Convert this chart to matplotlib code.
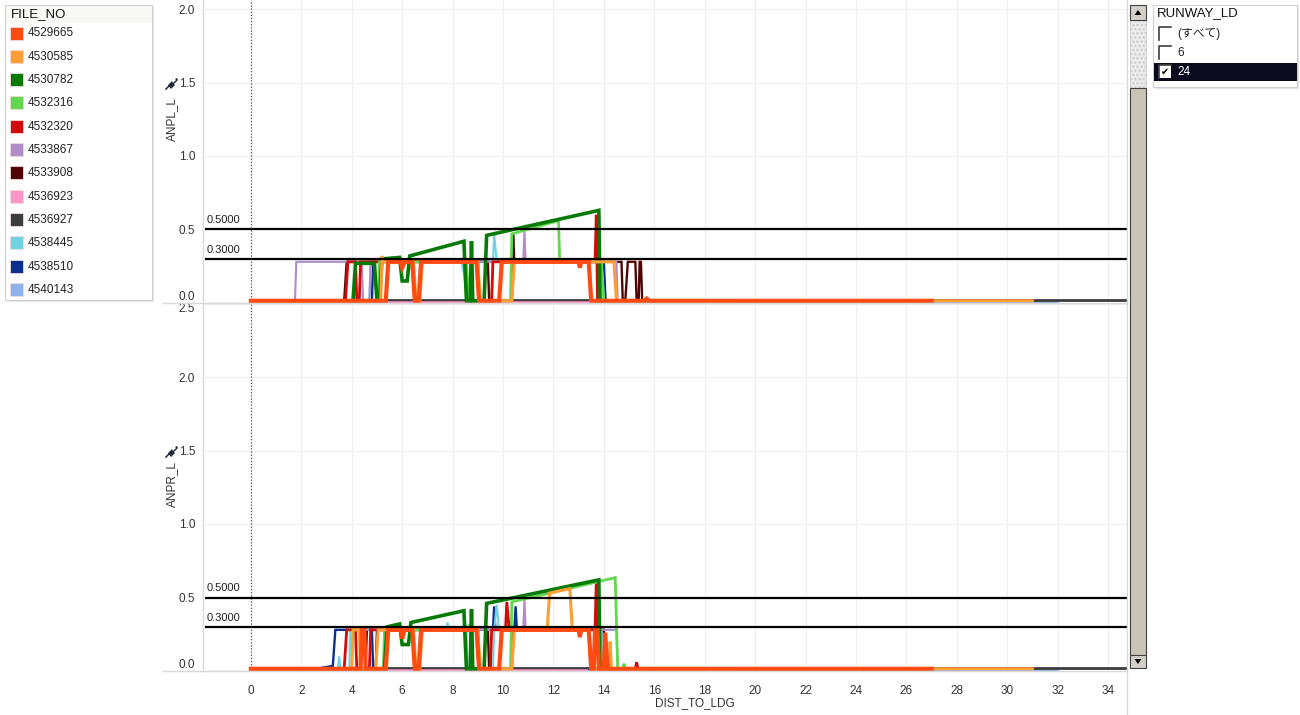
import matplotlib.pyplot as plt
from matplotlib.patches import Rectangle, Polygon

plt.rcParams['font.family'] = ['Liberation Sans', 'DejaVu Sans']

# ---- data -----------------------------------------------------------------
file_nos = ['4529665', '4530585', '4530782', '4532316', '4532320', '4533867',
            '4533908', '4536923', '4536927', '4538445', '4538510', '4540143']
colors = ['#ff4a12', '#ff9e35', '#087a08', '#62d84e', '#d10a0a', '#b08dc8',
          '#520404', '#ff94c8', '#3c3c3c', '#6fd3e3', '#0a2f8f', '#8db4ea']
widths = [3.0, 2.2, 2.6, 2.0, 2.0, 1.5, 1.7, 1.8, 2.0, 1.5, 1.7, 1.5]

x_ticks = list(range(0, 35, 2))
ref_values = [0.5, 0.3]
runway_items = ['(すべて)', '6', '24']
runway_checked = [False, False, True]

# ANPL_L (upper pane): (DIST_TO_LDG, value) breakpoints per FILE_NO
anpl_4529665 = [(0, .015), (5.35, .015), (5.45, .28), (5.95, .28), (6.0, .24), (6.1, .28), (6.4, .28),
                (6.5, .015), (6.65, .015), (6.75, .28), (8.95, .28), (9.05, .015), (9.85, .015),
                (9.95, .28), (13.0, .28), (13.05, .24), (13.1, .28), (13.4, .28), (13.5, .015),
                (15.6, .015), (15.7, .03), (15.8, .015), (27.0, .015)]
anpl_4530585 = [(0, .012), (5.15, .012), (5.2, .32), (5.25, .28), (6.45, .28), (6.55, .015), (6.7, .015),
                (6.8, .28), (9.0, .28), (9.1, .015), (10.35, .015), (10.45, .28), (14.4, .28),
                (14.5, .015), (31.0, .015)]
anpl_4530782 = [(0, .015), (4.05, .015), (4.15, .27), (4.9, .27), (5.0, .015), (5.1, .015), (5.2, .3),
                (5.9, .31), (6.0, .15), (6.2, .15), (6.3, .32), (8.45, .42), (8.55, .015), (8.7, .015),
                (8.75, .42), (8.8, .015), (9.25, .015), (9.35, .46), (13.8, .63), (13.85, .015),
                (18.0, .015)]
anpl_4532316 = [(0, .015), (5.05, .015), (5.1, .28), (8.55, .28), (8.65, .015), (10.3, .015),
                (10.35, .47), (12.2, .56), (12.25, .28), (13.9, .28), (14.0, .015), (19.0, .015)]
anpl_4532320 = [(0, .015), (3.75, .015), (3.85, .28), (4.15, .28), (4.2, .015), (4.3, .015), (4.35, .28),
                (9.0, .28), (9.05, .015), (9.55, .015), (9.6, .28), (13.65, .28), (13.7, .6),
                (13.75, .015), (16.0, .015)]
anpl_4533867 = [(0, .015), (1.75, .015), (1.8, .28), (4.4, .28), (4.45, .015), (4.7, .015), (4.75, .28),
                (10.8, .28), (10.85, .49), (10.9, .28), (14.5, .28), (14.55, .015), (17.0, .015)]
anpl_4533908 = [(0, .015), (3.7, .015), (3.8, .28), (9.4, .28), (9.45, .015), (10.35, .015), (10.4, .47),
                (10.45, .28), (14.7, .28), (14.75, .015), (14.85, .015), (14.95, .28), (15.25, .28),
                (15.3, .015), (15.38, .015), (15.42, .28), (15.47, .28), (15.52, .015), (17.0, .015)]
anpl_4536923 = [(0, .01), (13.4, .01)]
anpl_4536927 = [(0, .02), (34.8, .02)]
anpl_4538445 = [(0, .015), (4.7, .015), (4.75, .28), (8.35, .28), (8.45, .2), (8.6, .015), (9.55, .015),
                (9.6, .28), (9.65, .47), (9.75, .28), (13.9, .28), (14.0, .015), (16.0, .015)]
anpl_4538510 = [(0, .015), (4.8, .015), (4.85, .28), (14.0, .28), (14.07, .015), (16.0, .015)]
anpl_4540143 = [(0, .008), (32.0, .008)]

# ANPR_L (lower pane)
anpr_4529665 = [(0, .015), (4.35, .015), (4.4, .28), (4.5, .28), (4.55, .015), (5.35, .015), (5.45, .28),
                (5.95, .28), (6.0, .22), (6.1, .28), (6.4, .28), (6.5, .015), (6.65, .015), (6.75, .28),
                (8.95, .28), (9.05, .015), (9.85, .015), (9.95, .28), (13.0, .28), (13.05, .23),
                (13.1, .28), (13.4, .28), (13.5, .015), (13.6, .015), (13.65, .28), (13.75, .28),
                (13.8, .015), (14.0, .015), (14.05, .26), (14.15, .015), (27.0, .015)]
anpr_4530585 = [(0, .012), (4.0, .012), (4.05, .28), (4.3, .28), (4.35, .015), (4.95, .015), (5.05, .28),
                (6.45, .28), (6.55, .015), (6.7, .015), (6.8, .28), (9.0, .28), (9.1, .015),
                (10.35, .015), (10.45, .28), (11.75, .28), (11.85, .53), (12.65, .56), (12.75, .28),
                (13.4, .28), (13.5, .015), (14.2, .015), (14.25, .2), (14.3, .015), (31.0, .015)]
anpr_4530782 = [(0, .015), (5.3, .015), (5.4, .3), (5.9, .32), (6.0, .18), (6.25, .18), (6.35, .33),
                (8.45, .41), (8.55, .015), (8.7, .015), (8.75, .42), (8.8, .015), (9.25, .015),
                (9.35, .46), (13.8, .62), (13.85, .015), (18.0, .015)]
anpr_4532316 = [(0, .015), (5.25, .015), (5.3, .28), (8.6, .28), (8.7, .32), (8.75, .015), (10.3, .015),
                (10.35, .47), (14.45, .635), (14.55, .015), (14.75, .015), (14.8, .05), (14.85, .015),
                (19.0, .015)]
anpr_4532320 = [(0, .015), (3.7, .015), (3.8, .28), (4.15, .28), (4.2, .015), (4.7, .015), (4.75, .28),
                (9.0, .28), (9.05, .015), (9.5, .015), (9.55, .28), (10.1, .28), (10.15, .47),
                (10.25, .28), (13.65, .28), (13.7, .61), (13.8, .015), (15.25, .015), (15.3, .06),
                (15.35, .015), (16.0, .015)]
anpr_4533867 = [(0, .015), (4.0, .015), (4.05, .28), (10.8, .28), (10.85, .49), (10.9, .28), (14.5, .28),
                (14.55, .015), (17.0, .015)]
anpr_4533908 = [(0, .015), (4.55, .015), (4.6, .28), (9.4, .28), (9.45, .015), (10.35, .015), (10.4, .28),
                (14.0, .28), (14.05, .015), (17.0, .015)]
anpr_4536923 = [(0, .01), (13.3, .01)]
anpr_4536927 = [(0, .02), (34.8, .02)]
anpr_4538445 = [(0, .015), (3.45, .015), (3.5, .1), (3.55, .015), (3.9, .015), (3.95, .28), (7.75, .28),
                (7.8, .33), (7.85, .28), (8.45, .28), (8.5, .33), (8.55, .28), (8.6, .015), (9.6, .015),
                (9.65, .28), (9.75, .45), (9.85, .28), (13.9, .28), (14.0, .015), (16.0, .015)]
anpr_4538510 = [(0, .015), (2.6, .015), (3.25, .035), (3.35, .28), (4.8, .28), (4.85, .015), (4.95, .015),
                (5.0, .28), (9.6, .28), (9.65, .44), (9.7, .28), (10.45, .28), (10.5, .44), (10.55, .28),
                (14.0, .28), (14.07, .015), (16.0, .015)]
anpr_4540143 = [(0, .008), (32.0, .008)]

anpl = [anpl_4529665, anpl_4530585, anpl_4530782, anpl_4532316, anpl_4532320, anpl_4533867,
        anpl_4533908, anpl_4536923, anpl_4536927, anpl_4538445, anpl_4538510, anpl_4540143]
anpr = [anpr_4529665, anpr_4530585, anpr_4530782, anpr_4532316, anpr_4532320, anpr_4533867,
        anpr_4533908, anpr_4536923, anpr_4536927, anpr_4538445, anpr_4538510, anpr_4540143]

# ---- figure ---------------------------------------------------------------
W, H = 1300, 715
fig = plt.figure(figsize=(13, 7.15), dpi=100)


def px_axes(x0, y0, x1, y1):
    return fig.add_axes([x0 / W, 1 - y1 / H, (x1 - x0) / W, (y1 - y0) / H])


ax_top = px_axes(205, 0, 1127, 303)
ax_bot = px_axes(205, 303, 1127, 671)

panes = [(ax_top, anpl, 303 / 147.0, [0, 0.5, 1.0, 1.5, 2.0]),
         (ax_bot, anpr, 368 / 147.0, [0, 0.5, 1.0, 1.5, 2.0, 2.5])]

for ax, series, ytop, yt in panes:
    ax.set_xlim(-1.82, 34.75)
    ax.set_ylim(0, ytop)
    for s in ax.spines.values():
        s.set_visible(False)
    ax.set_xticks(x_ticks)
    ax.set_yticks(yt)
    ax.set_yticklabels([f'{v:.1f}' for v in yt])
    ax.grid(True, color='#eeeeee', lw=0.8)
    ax.set_axisbelow(True)
    ax.tick_params(axis='both', length=0, labelsize=8.5, labelcolor='#333333')
    ax.tick_params(axis='y', pad=7)
    ax.yaxis.get_ticklabels()[0].set_va('bottom')
    ax.axvline(0, color='#555555', lw=0.9, ls=(0, (1, 1.5)), zorder=1)
    # draw in reverse legend order so the first FILE_NO ends on top
    for i in range(len(series) - 1, -1, -1):
        xs = [p[0] for p in series[i]]
        ys = [p[1] for p in series[i]]
        ax.plot(xs, ys, color=colors[i], lw=widths[i], solid_joinstyle='miter', zorder=3)
    for rv in ref_values:
        ax.axhline(rv, color='black', lw=1.6, zorder=4)
        ax.annotate(f'{rv:.4f}', xy=(0, rv), xycoords=('axes fraction', 'data'),
                    xytext=(1, 3), textcoords='offset points', fontsize=8, color='#222222',
                    va='bottom', ha='left')

ax_top.tick_params(axis='x', labelbottom=False)
ax_bot.tick_params(axis='x', pad=10)
ax_bot.yaxis.get_ticklabels()[-1].set_va('top')

# ---- UI overlay (pixel coordinates) ---------------------------------------
ui = fig.add_axes([0, 0, 1, 1])
ui.set_xlim(0, W)
ui.set_ylim(H, 0)
ui.axis('off')
ui.patch.set_alpha(0)
ui.set_zorder(5)

sep = '#d9d9d9'
ui.plot([203, 203], [0, 671], color=sep, lw=1)
ui.plot([163, 1127], [303, 303], color=sep, lw=1)
ui.plot([163, 1127], [671, 671], color=sep, lw=1)
ui.plot([1127, 1127], [0, 715], color=sep, lw=1)
ui.add_patch(Rectangle((160, 0), 42, 4, fc='white', ec='none'))

# axis titles and pins
ui.text(172, 119, 'ANPL_L', rotation=90, ha='center', va='center', fontsize=8.5, color='#333333')
ui.text(172, 484, 'ANPR_L', rotation=90, ha='center', va='center', fontsize=8.5, color='#333333')
ui.text(695, 703, 'DIST_TO_LDG', ha='center', va='center', fontsize=8.5, color='#333333')


def draw_pin(cx, cy):
    ui.plot([cx - 5, cx - 1], [cy + 5, cy + 1], color='#1f2a3a', lw=1.1)
    ui.add_patch(Polygon([(cx - 3, cy + 1), (cx + 1, cy - 3), (cx + 2, cy - 1), (cx + 5, cy - 4),
                          (cx + 4, cy - 5), (cx + 6, cy - 6), (cx + 7, cy - 4), (cx + 6, cy - 3),
                          (cx + 3, cy - 0), (cx + 4, cy + 1), (cx + 0, cy + 5)],
                         closed=True, fc='#1f2a3a', ec='none'))


draw_pin(171, 84)
draw_pin(171, 452)

# FILE_NO legend
ui.add_patch(Rectangle((7, 7), 147, 295, fc='#e6e6e6', ec='none'))
ui.add_patch(Rectangle((5, 5), 147, 295, fc='white', ec='#d0d0d0', lw=0.8))
ui.add_patch(Rectangle((5.5, 5.5), 146, 17, fc='#f8f8f4', ec='none'))
ui.text(11, 14, 'FILE_NO', fontsize=9.5, va='center', ha='left', color='#111111')
for i, (fn, c) in enumerate(zip(file_nos, colors)):
    cy = 33.5 + i * 23.3
    ui.add_patch(Rectangle((9.5, cy - 7), 13, 13, fc=c, ec='#f2dada', lw=0.6))
    ui.text(28, cy, fn, fontsize=8.5, va='center', ha='left', color='#222222')

# RUNWAY_LD filter
ui.add_patch(Rectangle((1155, 7), 144, 82, fc='#e6e6e6', ec='none'))
ui.add_patch(Rectangle((1153, 5), 144, 82, fc='white', ec='#d0d0d0', lw=0.8))
ui.text(1157, 13, 'RUNWAY_LD', fontsize=9.5, va='center', ha='left', color='#111111')
for i, (item, chk) in enumerate(zip(runway_items, runway_checked)):
    cy = 34 + i * 19
    if chk:
        ui.add_patch(Rectangle((1153.5, cy - 9), 143, 18, fc='#0b0b20', ec='none'))
    ui.add_patch(Rectangle((1159, cy - 7), 12, 13, fc='white', ec='none'))
    ui.plot([1159, 1159, 1171], [cy + 6, cy - 7, cy - 7], color='#404040', lw=1.2)
    if chk:
        ui.text(1165, cy, '✔', fontsize=7, ha='center', va='center', color='black',
                family=['DejaVu Sans'])
    ui.text(1177, cy, item, fontsize=8.5, va='center', ha='left',
            color='white' if chk else '#222222',
            family=['Liberation Sans', 'Noto Sans CJK JP', 'DejaVu Sans'])

# scrollbar
ui.add_patch(Rectangle((1130, 20), 16, 68, fc='#ebebeb', ec='#c8c8c8', hatch='....', lw=0.5))
ui.add_patch(Rectangle((1130, 5), 16, 15, fc='#d4d0c8', ec='#404040', lw=0.8))
ui.add_patch(Polygon([(1134.5, 15), (1141.5, 15), (1138, 10)], fc='black', ec='none'))
ui.add_patch(Rectangle((1130, 88), 16, 567, fc='#c9c4b6', ec='#404040', lw=0.8))
ui.add_patch(Rectangle((1130, 655), 16, 13, fc='#d4d0c8', ec='#404040', lw=0.8))
ui.add_patch(Polygon([(1134.5, 659), (1141.5, 659), (1138, 664)], fc='black', ec='none'))

fig.savefig('out.png', dpi=100)
